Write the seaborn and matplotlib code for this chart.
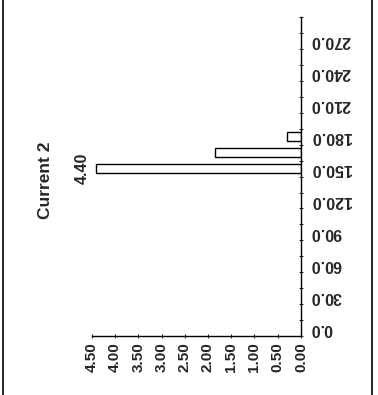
import matplotlib
matplotlib.use("Agg")
import matplotlib.pyplot as plt
from matplotlib.lines import Line2D
import numpy as np
import pandas as pd
import seaborn as sns

# === Data ===
# angle bins (every 15), only three of them hold a value
bins = [f"{a:.1f}" for a in range(0, 300, 15)]
bar_bins = ["150.0", "165.0", "180.0"]
bar_values = [4.40, 1.85, 0.30]
value_ticks = [0.0, 0.5, 1.0, 1.5, 2.0, 2.5, 3.0, 3.5, 4.0, 4.5]
title = "Current 2"

df = pd.DataFrame({"bin": bar_bins, "value": bar_values})

# === Style ===
sns.set_style("white")
plt.rcParams["font.family"] = ["Liberation Sans", "DejaVu Sans"]
plt.rcParams["font.weight"] = "bold"

fig = plt.figure(figsize=(3.78, 3.95), dpi=100)
ax = fig.add_axes([0.243, 0.149, 0.553, 0.808])

sns.barplot(data=df, x="value", y="bin", order=bins, orient="h",
            color="white", edgecolor="black", linewidth=1.0,
            width=0.55, ax=ax)

# rotated layout: value axis runs right-to-left, bins bottom-to-top
ax.set_xlim(4.5, 0)
ax.set_ylim(-0.5, len(bins) - 0.5)
ax.set_xlabel("")
ax.set_ylabel("")

ax.yaxis.tick_right()
ax.set_yticks(range(0, len(bins) - 1, 2))
ax.set_yticklabels(bins[0:len(bins) - 1:2], rotation=180, fontsize=11.5,
                   va="center", ha="left", fontweight="bold")
ax.set_yticks(np.arange(-0.5, len(bins), 1), minor=True)
ax.tick_params(axis="y", which="major", length=0, pad=7)
ax.tick_params(axis="y", which="minor", length=3, direction="inout",
               width=0.8, right=True, left=False)

ax.set_xticks(value_ticks)
ax.set_xticklabels([f"{v:.2f}" for v in value_ticks], rotation=90,
                   fontsize=11, va="top", fontweight="bold")
ax.tick_params(axis="x", which="major", length=3, direction="inout",
               width=0.8, bottom=True, pad=3)

for side in ["left", "top"]:
    ax.spines[side].set_visible(False)
for side in ["right", "bottom"]:
    ax.spines[side].set_color("black")
    ax.spines[side].set_linewidth(1.0)

# data label for the tallest bar
top_i = int(np.argmax(bar_values))
ax.annotate(f"{bar_values[top_i]:.2f}",
            xy=(bar_values[top_i], bins.index(bar_bins[top_i])),
            xytext=(-5, 0), textcoords="offset points",
            rotation=90, ha="right", va="center", fontsize=11.5,
            fontweight="bold")

fig.text(45 / 378, 1 - 180 / 395, title, rotation=90, ha="center",
         va="center", fontsize=12.5, fontweight="bold")

# page frame lines
fig.add_artist(Line2D([3 / 378, 3 / 378], [0, 1], color="black", lw=1.2,
                      transform=fig.transFigure))
fig.add_artist(Line2D([372 / 378, 372 / 378], [0, 1], color="black", lw=1.2,
                      transform=fig.transFigure))

fig.savefig("out.png", dpi=100)
plt.close(fig)
